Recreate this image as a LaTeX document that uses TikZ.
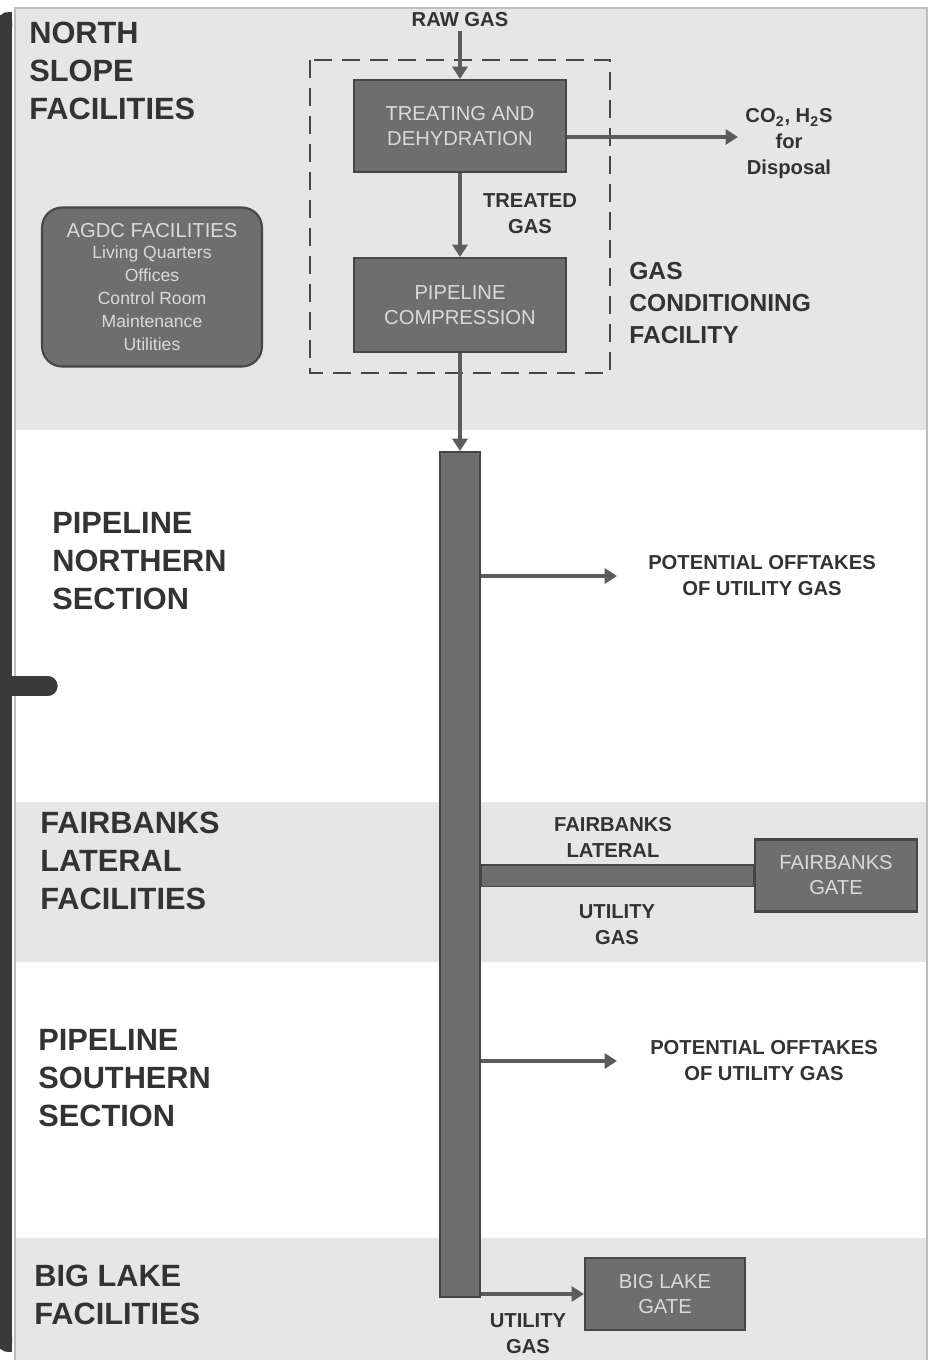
\documentclass[tikz,border=0pt]{standalone}
\usepackage{fontspec}
\setmainfont{Liberation Sans}
\usetikzlibrary{arrows.meta}
\definecolor{bandgrey}{HTML}{E6E6E6}
\definecolor{framegrey}{HTML}{BDBDBD}
\definecolor{boxgrey}{HTML}{6E6E6E}
\definecolor{edgegrey}{HTML}{464646}
\definecolor{boxtext}{HTML}{DADADA}
\definecolor{labeldark}{HTML}{333333}
\definecolor{arrowgrey}{HTML}{5C5C5C}
\definecolor{bracketdark}{HTML}{3A3A3A}
\begin{document}
\begin{tikzpicture}[x = 0.02cm, y = -0.02cm,
  box/.style = {draw = edgegrey, line width = 1.2pt, fill = boxgrey, text = boxtext,
    font = \fontsize{11.5}{14.2}\selectfont, align = center, inner sep = 0pt},
  flow/.style = {arrowgrey, line width = 2.6pt, -{Triangle[length = 7pt, width = 8.5pt]}},
  biglabel/.style = {text = labeldark, font = \fontsize{17.5}{21.6}\selectfont\bfseries,
    align = left, anchor = north west, inner sep = 0pt},
  small/.style = {text = labeldark, font = \fontsize{11.5}{14.8}\selectfont\bfseries,
    align = center, inner sep = 0pt}]
\useasboundingbox (0,0) rectangle (929,1360);
% bands and frame
\fill[bandgrey] (15,8) rectangle (927,430);
\fill[bandgrey] (15,802) rectangle (927,962);
\fill[bandgrey] (15,1238) rectangle (927,1360);
\draw[framegrey, line width = 1pt] (15,1360) -- (15,8) -- (927,8) -- (927,1360);
% bracket on the left
\draw[bracketdark, line width = 9pt] (12,20) .. controls (4,20) .. (4,34) -- (4,1332) .. controls (4,1344) .. (12,1344);
\draw[bracketdark, line width = 11pt, line cap = round] (4,686) -- (48,686);
% section titles
\node[biglabel] (north) at (29,22) {NORTH\\SLOPE\\FACILITIES};
\node[biglabel] (pnorth) at (52,512) {PIPELINE\\NORTHERN\\SECTION};
\node[biglabel] (fairbanks) at (40,812) {FAIRBANKS\\LATERAL\\FACILITIES};
\node[biglabel] (psouth) at (38,1029) {PIPELINE\\SOUTHERN\\SECTION};
\node[biglabel] (biglake) at (34,1265) {BIG LAKE\\FACILITIES};
% gas conditioning facility
\draw[edgegrey, line width = 1.2pt, dash pattern = on 0.36cm off 0.2cm] (310,60) rectangle (610,373);
\node[box, minimum width = 4.24cm, minimum height = 1.84cm] (treat) at (460,126) {TREATING AND\\DEHYDRATION};
\node[box, minimum width = 4.24cm, minimum height = 1.88cm] (comp) at (460,305) {PIPELINE\\COMPRESSION};
\node[small] (raw) at (460,20) {RAW GAS};
\node[small] (co2) at (789,144) {CO\textsubscript{2}, H\textsubscript{2}S\\for\\Disposal};
\node[small] (treated) at (530,214) {TREATED\\GAS};
\node[text = labeldark, font = \fontsize{14}{18.2}\selectfont\bfseries, align = left,
  anchor = north west, inner sep = 0pt] (gcf) at (629,262) {GAS\\CONDITIONING\\FACILITY};
\coordinate (co2-end) at (738,137);
\draw[flow] ([yshift = -2pt]raw.south) -- (treat.north);
\draw[flow] (treat.east |- co2-end) -- (co2-end);
\draw[flow] (treat.south) -- (comp.north);
% agdc
\node[box, rounded corners = 0.4cm, minimum width = 4.4cm, minimum height = 3.18cm,
  font = \fontsize{10}{13}\selectfont] (agdc) at (152,287)
  {{\fontsize{11.5}{14}\selectfont AGDC FACILITIES}\\[-1pt]Living Quarters\\Offices\\Control Room\\Maintenance\\Utilities};
% pipeline
\node[box, minimum width = 0.8cm, minimum height = 16.9cm] (pipe) at (460,874.5) {};
\draw[flow] (comp.south) -- (pipe.north);
\foreach \name/\y/\x in {offn/576/762, offs/1061/764}
{
\coordinate (\name-end) at (617,\y);
\node[small] (\name) at (\x,\y) {POTENTIAL OFFTAKES\\OF UTILITY GAS};
\draw[flow] (pipe.east |- \name-end) -- (\name-end);
}
% fairbanks lateral
\node[box, minimum width = 3.24cm, minimum height = 1.44cm] (fgate) at (836,875.5) {FAIRBANKS\\GATE};
\draw[edgegrey, line width = 0.46cm] (pipe.east |- fgate) -- (fgate.west);
\draw[boxgrey, line width = 0.40cm] ([xshift = 0.6pt]pipe.east |- fgate) -- ([xshift = -0.6pt]fgate.west);
\node[small] (flat) at (613,837) {FAIRBANKS\\LATERAL};
\node[small] (futil) at (617,925) {UTILITY\\GAS};
% big lake
\node[box, minimum width = 3.2cm, minimum height = 1.44cm] (blgate) at (665,1294) {BIG LAKE\\GATE};
\draw[flow] (pipe.east |- blgate) -- (blgate.west);
\node[small] (blutil) at (528,1334) {UTILITY\\GAS};
\end{tikzpicture}
\end{document}
